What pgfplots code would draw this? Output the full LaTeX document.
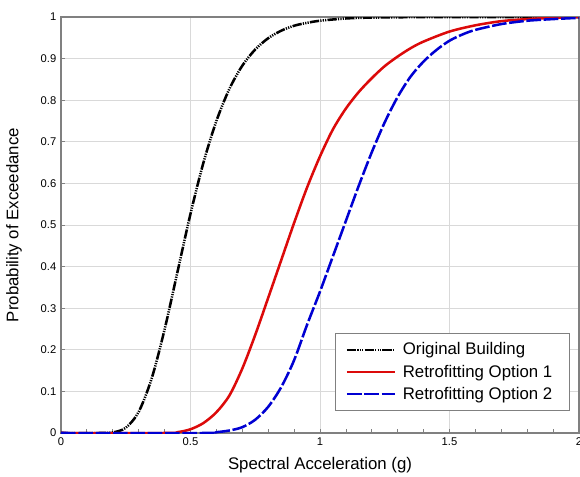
\documentclass[border=0pt]{standalone}
\usepackage{fontspec}
\setmainfont{Liberation Sans}
\usepackage{pgfplots}
\pgfplotsset{compat=1.18}
\definecolor{gridgray}{RGB}{217,217,217}
\definecolor{axgray}{RGB}{128,128,128}
\definecolor{myred}{RGB}{220,10,10}
\definecolor{myblue}{RGB}{0,0,210}
\begin{document}
\begin{tikzpicture}
\begin{axis}[
  name=ax,
  scale only axis,
  width=388.5pt, height=312pt,
  xmin=0, xmax=2, ymin=0, ymax=1,
  xtick={0,0.5,1,1.5,2},
  ytick={0,0.1,0.2,0.3,0.4,0.5,0.6,0.7,0.8,0.9,1},
  minor x tick num=4,
  /pgf/number format/assume math mode=true,
  ticklabel style={font=\fontsize{8.4}{10}\selectfont},
  grid=major,
  major grid style={gridgray, line width=0.6pt},
  axis line style={axgray, line width=0.8pt},
  tick style={axgray, line width=0.6pt},
  tick align=inside,
  major tick length=3pt, minor tick length=3pt,
  xtick pos=bottom, ytick pos=left,
  xlabel={Spectral Acceleration (g)},
  ylabel={Probability of Exceedance},
  label style={font=\fontsize{12.6}{14}\selectfont},
  xlabel style={at={(axis description cs:0.5,-0.0775)}, anchor=center},
  ylabel style={at={(axis description cs:-0.0907,0.5)}, anchor=center},
  legend style={draw=axgray, line width=0.6pt, font=\fontsize{12.6}{14.5}\selectfont,
    at={(axis description cs:0.9826,0.0529)}, anchor=south east,
    inner xsep=8pt, inner ysep=5pt, row sep=2pt},
  legend cell align=left,
  legend image code/.code={\draw[#1] (0pt,0pt) -- (36pt,0pt);},
  legend style={nodes={inner xsep=5pt}},
]
\addplot[black, line width=1.9pt, smooth,
  dash pattern=on 7pt off 0.9pt on 0.9pt off 0.9pt on 0.9pt off 0.9pt on 0.9pt off 0.9pt]
coordinates {
(0,0) (0.15,0) (0.20,0.0014) (0.25,0.0125) (0.30,0.051) (0.35,0.131)
(0.40,0.249) (0.45,0.388) (0.50,0.527) (0.55,0.650) (0.60,0.750)
(0.65,0.827) (0.70,0.883) (0.75,0.922) (0.80,0.949) (0.85,0.967)
(0.90,0.979) (0.95,0.986) (1.00,0.991) (1.10,0.9965) (1.20,0.9986)
(1.40,0.9998) (1.60,1) (2.00,1)
};
\addlegendentry{Original Building}
\addplot[myred, line width=1.9pt, smooth]
coordinates {
(0,0) (0.40,0) (0.45,0.002) (0.50,0.009) (0.55,0.024) (0.60,0.05)
(0.65,0.09) (0.70,0.155) (0.75,0.236) (0.80,0.325) (0.85,0.415)
(0.90,0.505) (0.95,0.59) (1.00,0.665) (1.05,0.73) (1.10,0.78)
(1.15,0.82) (1.20,0.853) (1.25,0.882) (1.30,0.905) (1.35,0.925)
(1.40,0.941) (1.50,0.965) (1.60,0.98) (1.70,0.99) (1.80,0.995)
(1.90,0.998) (2.00,1)
};
\addlegendentry{Retrofitting Option 1}
\addplot[myblue, line width=1.9pt, smooth, dash pattern=on 11pt off 2pt]
coordinates {
(0,0) (0.55,0) (0.60,0.002) (0.65,0.006) (0.70,0.014) (0.75,0.032)
(0.80,0.063) (0.85,0.11) (0.90,0.175) (0.95,0.26) (1.00,0.34)
(1.05,0.425) (1.10,0.51) (1.15,0.595) (1.20,0.675) (1.25,0.747)
(1.30,0.808) (1.35,0.857) (1.40,0.893) (1.45,0.921) (1.50,0.943)
(1.55,0.958) (1.60,0.969) (1.70,0.983) (1.80,0.991) (1.90,0.995)
(2.00,0.998)
};
\addlegendentry{Retrofitting Option 2}
\end{axis}
\pgfresetboundingbox
\path[use as bounding box] ([xshift=-45.75pt,yshift=-32.25pt]ax.south west) rectangle ([xshift=0.75pt,yshift=12.75pt]ax.north east);
\end{tikzpicture}
\end{document}
